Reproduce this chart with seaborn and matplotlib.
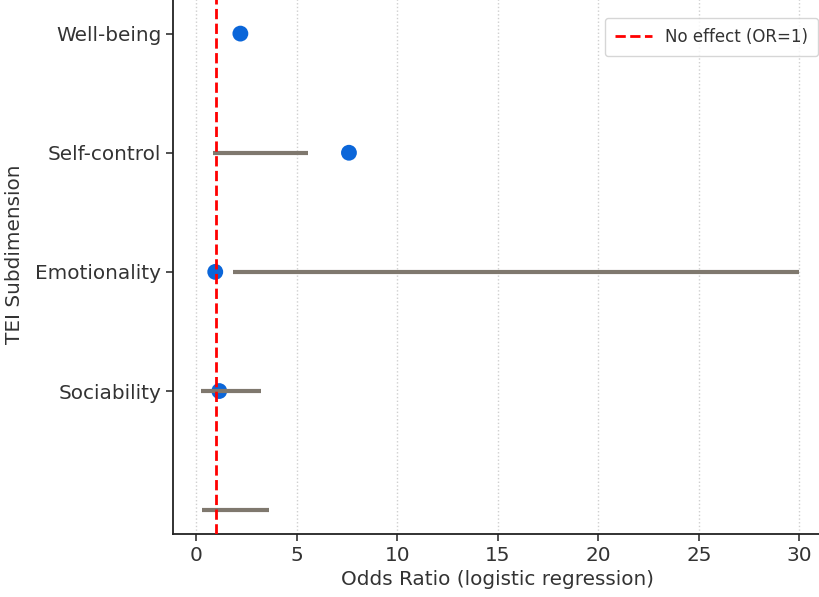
import numpy as np
import pandas as pd
import matplotlib
matplotlib.use("Agg")
import matplotlib.pyplot as plt
import seaborn as sns

# TEI subdimensions and their odds ratios
categories = ["Well-being", "Self-control", "Emotionality", "Sociability"]
odds_ratio = [2.2, 7.6, 0.95, 1.15]
# confidence interval ends (drawn one row lower, as in the original)
ci_low = [0.85, 1.85, 0.25, 0.3]
ci_high = [5.55, 30.0, 3.25, 3.6]

sns.set_style("white")
plt.rcParams["font.family"] = ["DejaVu Sans"]

df = pd.DataFrame({"Subdimension": categories, "OR": odds_ratio,
                   "pos": np.arange(len(categories))})

fig = plt.figure(figsize=(8.2, 5.97), dpi=100)
ax = fig.add_axes([0.211, 0.1055, 0.792, 0.938])

sns.scatterplot(data=df, x="OR", y="pos", s=130, color="#0b66d9",
                edgecolor="none", ax=ax, zorder=3)

# error bars sit at index + 1
err_pos = np.arange(len(categories)) + 1
ax.hlines(err_pos, ci_low, ci_high, color="#7f786e", lw=3, zorder=4)

ax.axvline(1, color="#ff0000", ls="--", lw=2, zorder=5, label="No effect (OR=1)")

ax.set_xlim(-1.15, 31.15)
ax.set_ylim(4.2, -0.5)
ax.set_yticks(df["pos"])
ax.set_yticklabels(categories)
ax.set_xticks(range(0, 31, 5))
ax.grid(axis="x", ls=":", color="#cfcfcf", lw=1)
ax.grid(axis="y", visible=False)

ax.tick_params(axis="both", labelsize=14.4, colors="#333333", length=5,
               width=1.2, left=True, bottom=True)
ax.set_xlabel("Odds Ratio (logistic regression)", fontsize=14.4, color="#333333")
ax.set_ylabel("TEI Subdimension", fontsize=14.4, color="#333333", labelpad=8)
for side in ["left", "bottom", "top", "right"]:
    ax.spines[side].set_color("#222222")
    ax.spines[side].set_linewidth(1.3)

leg = ax.legend(loc="upper right", bbox_to_anchor=(818 / 820, 1 - 18 / 597),
                bbox_transform=fig.transFigure, fontsize=12, frameon=True,
                edgecolor="#cccccc", fancybox=True, borderaxespad=0,
                borderpad=0.6, handlelength=2.2)
for t in leg.get_texts():
    t.set_color("#333333")

fig.savefig("out.png", dpi=100)
